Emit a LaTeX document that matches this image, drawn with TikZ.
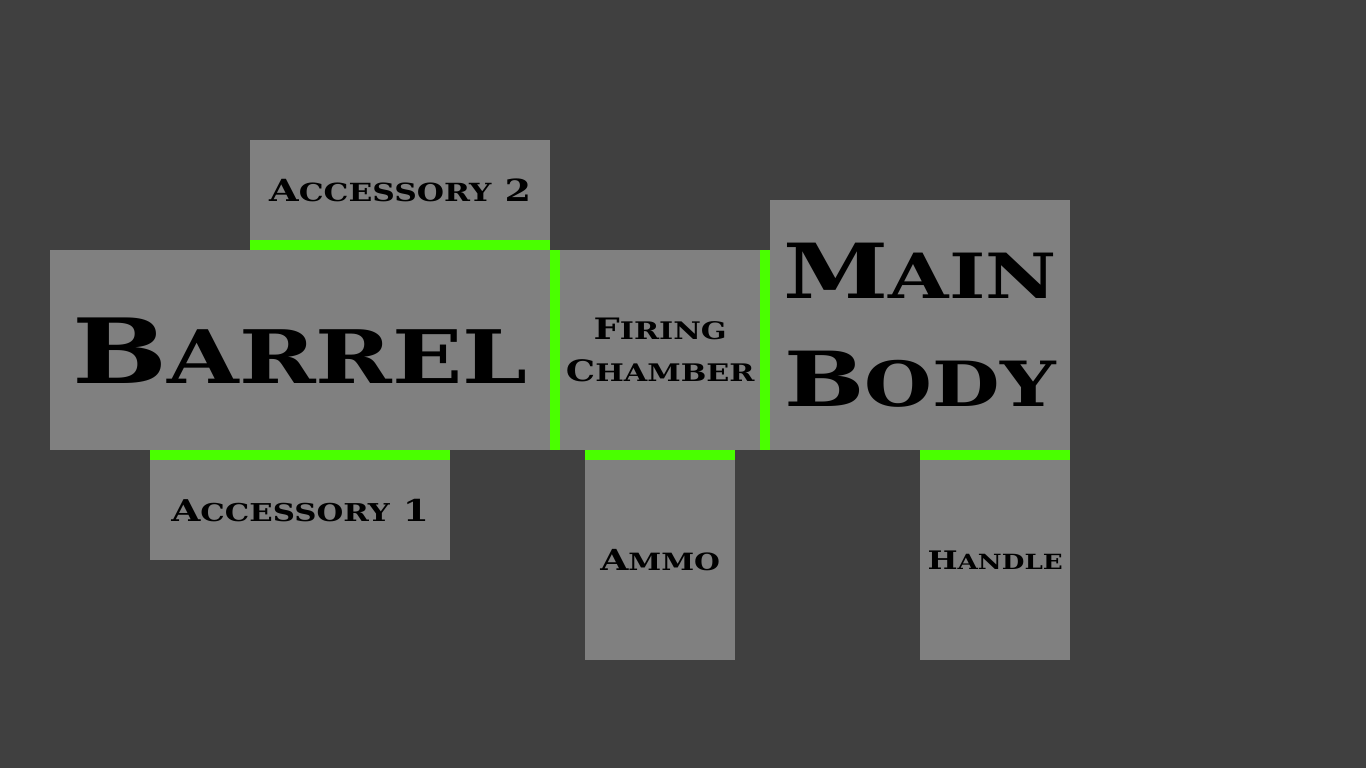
\documentclass[tikz,border=0pt]{standalone}
\usepackage{fontspec}
\usepackage{graphicx}
\newfontfamily\platefont{DejaVu Serif}[FakeStretch=1.25]
\definecolor{bggrey}{RGB}{64,64,64}
\definecolor{partgrey}{RGB}{128,128,128}
\definecolor{joint}{RGB}{74,255,0}
% first letter full size, the rest as small capitals
\newcommand\plate[2]{#1\scalebox{0.82}{#2}}

\begin{document}
\begin{tikzpicture}[x=1pt,y=-1pt,
  part/.style={fill=partgrey,anchor=north west,inner sep=0pt,align=center,
    text=black,font=\platefont\bfseries},
  seam/.style={fill=joint}]
 \fill[bggrey] (0,0) rectangle (1366,768);
 % parts
 \node[part,minimum width=300,minimum height=100,font=\platefont\bfseries\fontsize{30.5}{36}\selectfont]
   (acc2) at (250,140) {\plate{A}{CCESSORY} 2};
 \node[part,minimum width=500,minimum height=200,font=\platefont\bfseries\fontsize{90}{110}\selectfont]
   (barrel) at (50,250) {\plate{B}{ARREL}};
 \node[part,minimum width=200,minimum height=200,font=\platefont\bfseries\fontsize{29.5}{42}\selectfont]
   (chamber) at (560,250) {\plate{F}{IRING}\\\plate{C}{HAMBER}};
 \node[part,minimum width=300,minimum height=250,font=\platefont\bfseries\fontsize{76}{108}\selectfont]
   (body) at (770,200) {\plate{M}{AIN}\\\plate{B}{ODY}};
 \node[part,minimum width=300,minimum height=100,font=\platefont\bfseries\fontsize{30}{36}\selectfont]
   (acc1) at (150,460) {\plate{A}{CCESSORY} 1};
 \node[part,minimum width=150,minimum height=200,font=\platefont\bfseries\fontsize{29}{34}\selectfont]
   (ammo) at (585,460) {\plate{A}{MMO}};
 \node[part,minimum width=150,minimum height=200,font=\platefont\bfseries\fontsize{25.5}{30}\selectfont]
   (handle) at (920,460) {\plate{H}{ANDLE}};
 % joints
 \fill[seam] (acc2.south west) rectangle (acc2.east |- barrel.north);
 \fill[seam] (barrel.north east) rectangle (chamber.south west);
 \fill[seam] (chamber.north east) rectangle (body.south west);
 \fill[seam] (acc1.north west) rectangle (acc1.east |- barrel.south);
 \fill[seam] (ammo.north west) rectangle (ammo.east |- chamber.south);
 \fill[seam] (handle.north west) rectangle (handle.east |- body.south);
\end{tikzpicture}
\end{document}
